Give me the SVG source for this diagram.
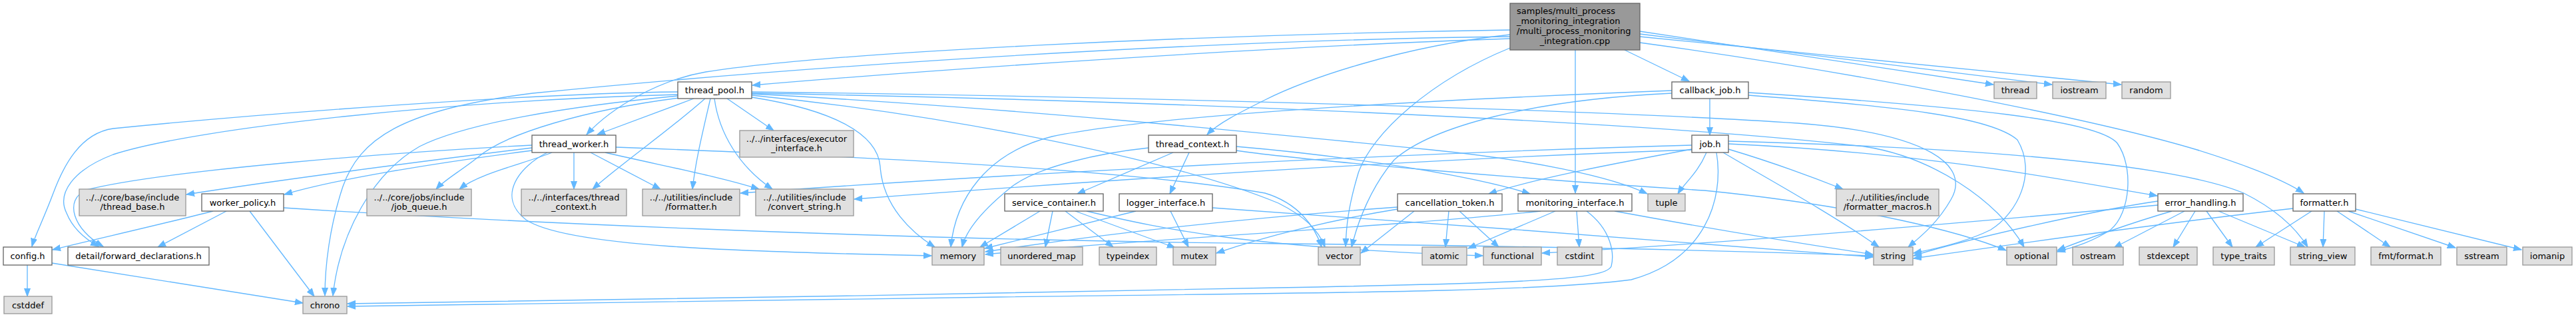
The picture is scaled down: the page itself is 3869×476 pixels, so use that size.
<svg xmlns="http://www.w3.org/2000/svg" width="3869" height="476" viewBox="0 0 3869 476">
<style>
.n{fill:#ffffff;stroke:#666666;stroke-width:1.33}
.g{fill:#e0e0e0;stroke:#999999;stroke-width:1.33}
.m{fill:#999999;stroke:#666666;stroke-width:1.33}
text{font-family:"DejaVu Sans","Liberation Sans",sans-serif;font-size:13px;fill:#000000;text-anchor:middle}
text.s{text-anchor:start}
.e path{fill:none;stroke:#63b8ff;stroke-width:1.33;marker-end:url(#a)}
</style>
<defs>
<marker id="a" markerWidth="13" markerHeight="10" refX="12" refY="5" orient="auto" markerUnits="userSpaceOnUse">
<path d="M0,0.5 L12,5 L0,9.5 z" fill="#63b8ff" stroke="#63b8ff" stroke-width="1"/>
</marker>
</defs>
<rect width="3869" height="476" fill="#ffffff"/>
<g id="connectors" class="e">
<path d="M2268,58 C1900,70 1400,105 1130,128"/>
<path d="M2268,45 C1800,52 1250,78 1060,108 C990,120 920,160 881,202"/>
<path d="M2440,75 L2537,122"/>
<path d="M2268,52 C2100,70 1960,120 1900,150 C1860,170 1830,185 1813,202"/>
<path d="M2366,75 L2366,290"/>
<path d="M2463,64 C2800,110 3150,180 3300,225 C3380,250 3430,270 3460,290"/>
<path d="M2463,47 L2994,127"/>
<path d="M2463,51 L3082,127"/>
<path d="M2463,55 L3186,127"/>
<path d="M2268,72 C2150,120 2060,200 2040,260 C2025,310 2022,340 2021,370"/>
<path d="M2268,55 C1800,60 1200,100 800,140 C600,165 540,210 515,280 C495,340 488,400 488,444"/>
<path d="M1042,148 L897,202"/>
<path d="M1018,138 C800,140 400,170 170,193 C120,200 95,250 80,290 C65,330 52,355 48,370"/>
<path d="M1018,142 C700,150 300,190 170,232 C110,255 85,290 100,320 C110,345 130,360 148,370"/>
<path d="M1018,144 C850,160 700,185 630,220 C560,260 510,350 500,444"/>
<path d="M1020,147 C880,165 760,200 718,236 C690,258 668,270 655,284"/>
<path d="M1059,148 C1000,200 940,240 890,284"/>
<path d="M1067,148 C1055,200 1045,240 1040,284"/>
<path d="M1073,148 C1080,200 1110,250 1160,284"/>
<path d="M1092,148 L1162,196"/>
<path d="M1129,146 C1250,165 1318,200 1322,250 C1326,310 1370,350 1404,371"/>
<path d="M1129,143 C1400,170 1750,235 1920,305 C1960,325 1980,345 1990,371"/>
<path d="M1129,138 C1700,145 2400,165 2700,185 C2900,200 2960,250 2930,300 C2910,335 2885,355 2866,371"/>
<path d="M1129,140 C1700,150 2450,180 2800,220 C2900,235 3000,300 3040,371"/>
<path d="M1129,141 C1500,160 1900,200 2150,225 C2300,240 2420,265 2474,291"/>
<path d="M799,222 C650,240 420,270 280,292"/>
<path d="M799,226 C650,245 500,270 427,292"/>
<path d="M799,218 C600,228 250,255 130,285 C95,300 110,345 155,370"/>
<path d="M829,229 C790,245 720,260 690,284"/>
<path d="M862,229 L862,284"/>
<path d="M887,229 L992,284"/>
<path d="M909,229 C1000,250 1080,265 1140,284"/>
<path d="M822,229 C780,250 745,295 790,330 C850,370 1100,378 1399,384"/>
<path d="M925,221 C1300,235 1700,255 1900,290 C1950,305 1975,340 1985,371"/>
<path d="M320,317 C250,335 140,360 79,375"/>
<path d="M340,317 L237,371"/>
<path d="M375,317 L472,445"/>
<path d="M426,312 C700,330 1300,360 1930,366 C2400,370 2700,380 2813,384"/>
<path d="M41,398 L41,445"/>
<path d="M78,395 L455,455"/>
<path d="M1762,229 L1618,291"/>
<path d="M1786,229 L1757,291"/>
<path d="M1857,220 C2000,232 2200,260 2298,291"/>
<path d="M1725,222 C1650,230 1560,250 1520,280 C1470,320 1450,350 1445,371"/>
<path d="M1857,226 C1950,240 2300,270 2560,286 C2800,310 2950,350 3013,376"/>
<path d="M1562,317 L1472,371"/>
<path d="M1581,317 L1570,371"/>
<path d="M1600,317 L1672,371"/>
<path d="M1615,317 L1765,372"/>
<path d="M1632,317 C1750,345 1880,372 2227,384"/>
<path d="M1706,317 L1479,373"/>
<path d="M1758,317 L1785,371"/>
<path d="M1821,312 C2100,330 2600,370 2813,386"/>
<path d="M2099,311 C1900,325 1700,345 1480,378"/>
<path d="M2124,317 L2044,380"/>
<path d="M2176,317 L2171,371"/>
<path d="M2192,317 L2251,371"/>
<path d="M2099,314 C2000,330 1900,355 1827,380"/>
<path d="M2314,317 C2100,340 1700,360 1480,382"/>
<path d="M2336,317 L2205,373"/>
<path d="M2368,317 L2372,371"/>
<path d="M2383,317 C2420,345 2425,380 2420,400 C2410,420 2300,425 1920,432 C1500,440 900,452 522,456"/>
<path d="M2425,317 C2550,340 2700,365 2813,382"/>
<path d="M2568,148 L2568,203"/>
<path d="M2511,136 C2200,148 1750,170 1580,205 C1480,230 1435,300 1428,371"/>
<path d="M2511,140 C2300,150 2150,190 2094,240 C2060,280 2040,330 2030,371"/>
<path d="M2626,143 C2850,160 2990,175 3030,210 C3060,260 3030,320 2990,345 C2950,365 2900,375 2874,380"/>
<path d="M2626,139 C2950,160 3150,180 3180,215 C3205,250 3200,320 3170,345 C3140,365 3110,372 3090,378"/>
<path d="M2541,224 C2400,250 2300,270 2236,291"/>
<path d="M2563,229 C2550,260 2530,275 2520,291"/>
<path d="M2578,229 C2590,300 2560,390 2450,420 C2300,440 1900,440 1500,446 C1000,452 700,456 522,460"/>
<path d="M2541,218 C2100,230 1500,262 1112,290"/>
<path d="M2541,225 C2100,240 1600,275 1283,299"/>
<path d="M2596,224 C2650,240 2720,265 2768,284"/>
<path d="M2596,216 C2900,230 3100,270 3240,294"/>
<path d="M2596,212 C2900,220 3250,240 3370,290 C3420,315 3450,345 3466,371"/>
<path d="M2588,229 C2640,260 2750,320 2822,371"/>
<path d="M3241,302 C3150,315 2950,360 2874,384"/>
<path d="M3262,317 C3200,335 3130,360 3090,376"/>
<path d="M3241,308 C3000,330 2600,365 2316,380"/>
<path d="M3281,317 L3175,372"/>
<path d="M3297,317 L3264,371"/>
<path d="M3314,317 L3353,371"/>
<path d="M3332,317 L3462,371"/>
<path d="M3444,313 C3250,335 3000,370 2874,388"/>
<path d="M3472,317 L3388,371"/>
<path d="M3491,317 L3489,371"/>
<path d="M3510,317 L3590,371"/>
<path d="M3527,317 L3688,372"/>
<path d="M3538,314 L3787,375"/>
</g>
<g id="main"><rect class="m" x="2268" y="5" width="195" height="70"/><text class="s" x="2278" y="21">samples/multi_process</text><text class="s" x="2278" y="36">_monitoring_integration</text><text class="s" x="2278" y="51">/multi_process_monitoring</text><text x="2365.5" y="65.5">_integration.cpp</text></g>
<g id="thread_pool"><rect class="n" x="1018" y="123" width="111" height="25"/><text x="1073.5" y="140">thread_pool.h</text></g>
<g id="callback_job"><rect class="n" x="2511" y="123" width="115" height="25"/><text x="2568.5" y="140">callback_job.h</text></g>
<g id="thread"><rect class="g" x="2995" y="123" width="64" height="25"/><text x="3027" y="140">thread</text></g>
<g id="iostream"><rect class="g" x="3083" y="123" width="80" height="25"/><text x="3123" y="140">iostream</text></g>
<g id="random"><rect class="g" x="3187" y="123" width="73" height="25"/><text x="3223.5" y="140">random</text></g>
<g id="thread_worker"><rect class="n" x="799" y="203" width="126" height="26"/><text x="862" y="220.5">thread_worker.h</text></g>
<g id="executor_interface"><rect class="g" x="1111" y="196" width="171" height="40"/><text x="1196.5" y="212.5">../../interfaces/executor</text><text x="1196.5" y="226.5">_interface.h</text></g>
<g id="thread_context_h"><rect class="n" x="1725" y="203" width="132" height="26"/><text x="1791" y="220.5">thread_context.h</text></g>
<g id="job"><rect class="n" x="2541" y="203" width="55" height="26"/><text x="2568.5" y="220.5">job.h</text></g>
<g id="thread_base"><rect class="g" x="119" y="284" width="160" height="40"/><text x="199" y="300.5">../../core/base/include</text><text x="199" y="314.5">/thread_base.h</text></g>
<g id="worker_policy"><rect class="n" x="303" y="291" width="123" height="26"/><text x="364.5" y="308.5">worker_policy.h</text></g>
<g id="job_queue"><rect class="g" x="551" y="284" width="157" height="40"/><text x="629.5" y="300.5">../../core/jobs/include</text><text x="629.5" y="314.5">/job_queue.h</text></g>
<g id="iface_thread_context"><rect class="g" x="783" y="284" width="158" height="40"/><text x="862" y="300.5">../../interfaces/thread</text><text x="862" y="314.5">_context.h</text></g>
<g id="util_formatter"><rect class="g" x="965" y="284" width="146" height="40"/><text x="1038" y="300.5">../../utilities/include</text><text x="1038" y="314.5">/formatter.h</text></g>
<g id="convert_string"><rect class="g" x="1135" y="284" width="147" height="40"/><text x="1208.5" y="300.5">../../utilities/include</text><text x="1208.5" y="314.5">/convert_string.h</text></g>
<g id="service_container"><rect class="n" x="1509" y="291" width="148" height="26"/><text x="1583" y="308.5">service_container.h</text></g>
<g id="logger_interface"><rect class="n" x="1681" y="291" width="140" height="26"/><text x="1751" y="308.5">logger_interface.h</text></g>
<g id="cancellation_token"><rect class="n" x="2099" y="291" width="157" height="26"/><text x="2177.5" y="308.5">cancellation_token.h</text></g>
<g id="monitoring_interface"><rect class="n" x="2280" y="291" width="171" height="26"/><text x="2365.5" y="308.5">monitoring_interface.h</text></g>
<g id="tuple"><rect class="g" x="2475" y="291" width="56" height="26"/><text x="2503" y="308.5">tuple</text></g>
<g id="formatter_macros"><rect class="g" x="2758" y="284" width="154" height="40"/><text x="2835" y="300.5">../../utilities/include</text><text x="2835" y="314.5">/formatter_macros.h</text></g>
<g id="error_handling"><rect class="n" x="3241" y="291" width="128" height="26"/><text x="3305" y="308.5">error_handling.h</text></g>
<g id="formatter"><rect class="n" x="3444" y="291" width="94" height="26"/><text x="3491" y="308.5">formatter.h</text></g>
<g id="config"><rect class="n" x="5" y="371" width="73" height="27"/><text x="41.5" y="389">config.h</text></g>
<g id="forward_declarations"><rect class="n" x="102" y="371" width="212" height="27"/><text x="208" y="389">detail/forward_declarations.h</text></g>
<g id="memory"><rect class="g" x="1400" y="371" width="78" height="27"/><text x="1439" y="389">memory</text></g>
<g id="unordered_map"><rect class="g" x="1503" y="371" width="123" height="27"/><text x="1564.5" y="389">unordered_map</text></g>
<g id="typeindex"><rect class="g" x="1651" y="371" width="86" height="27"/><text x="1694" y="389">typeindex</text></g>
<g id="mutex"><rect class="g" x="1762" y="371" width="64" height="27"/><text x="1794" y="389">mutex</text></g>
<g id="vector"><rect class="g" x="1980" y="371" width="63" height="27"/><text x="2011.5" y="389">vector</text></g>
<g id="atomic"><rect class="g" x="2136" y="371" width="67" height="27"/><text x="2169.5" y="389">atomic</text></g>
<g id="functional"><rect class="g" x="2228" y="371" width="87" height="27"/><text x="2271.5" y="389">functional</text></g>
<g id="cstdint"><rect class="g" x="2339" y="371" width="67" height="27"/><text x="2372.5" y="389">cstdint</text></g>
<g id="string"><rect class="g" x="2814" y="371" width="59" height="27"/><text x="2843.5" y="389">string</text></g>
<g id="optional"><rect class="g" x="3014" y="371" width="75" height="27"/><text x="3051.5" y="389">optional</text></g>
<g id="ostream"><rect class="g" x="3113" y="371" width="76" height="27"/><text x="3151" y="389">ostream</text></g>
<g id="stdexcept"><rect class="g" x="3213" y="371" width="87" height="27"/><text x="3256.5" y="389">stdexcept</text></g>
<g id="type_traits"><rect class="g" x="3324" y="371" width="92" height="27"/><text x="3370" y="389">type_traits</text></g>
<g id="string_view"><rect class="g" x="3440" y="371" width="97" height="27"/><text x="3488.5" y="389">string_view</text></g>
<g id="fmt_format"><rect class="g" x="3561" y="371" width="105" height="27"/><text x="3613.5" y="389">fmt/format.h</text></g>
<g id="sstream"><rect class="g" x="3690" y="371" width="75" height="27"/><text x="3727.5" y="389">sstream</text></g>
<g id="iomanip"><rect class="g" x="3789" y="371" width="74" height="27"/><text x="3826" y="389">iomanip</text></g>
<g id="cstddef"><rect class="g" x="6" y="445" width="72" height="26"/><text x="42" y="462.5">cstddef</text></g>
<g id="chrono"><rect class="g" x="455" y="445" width="66" height="26"/><text x="488" y="462.5">chrono</text></g>
</svg>
